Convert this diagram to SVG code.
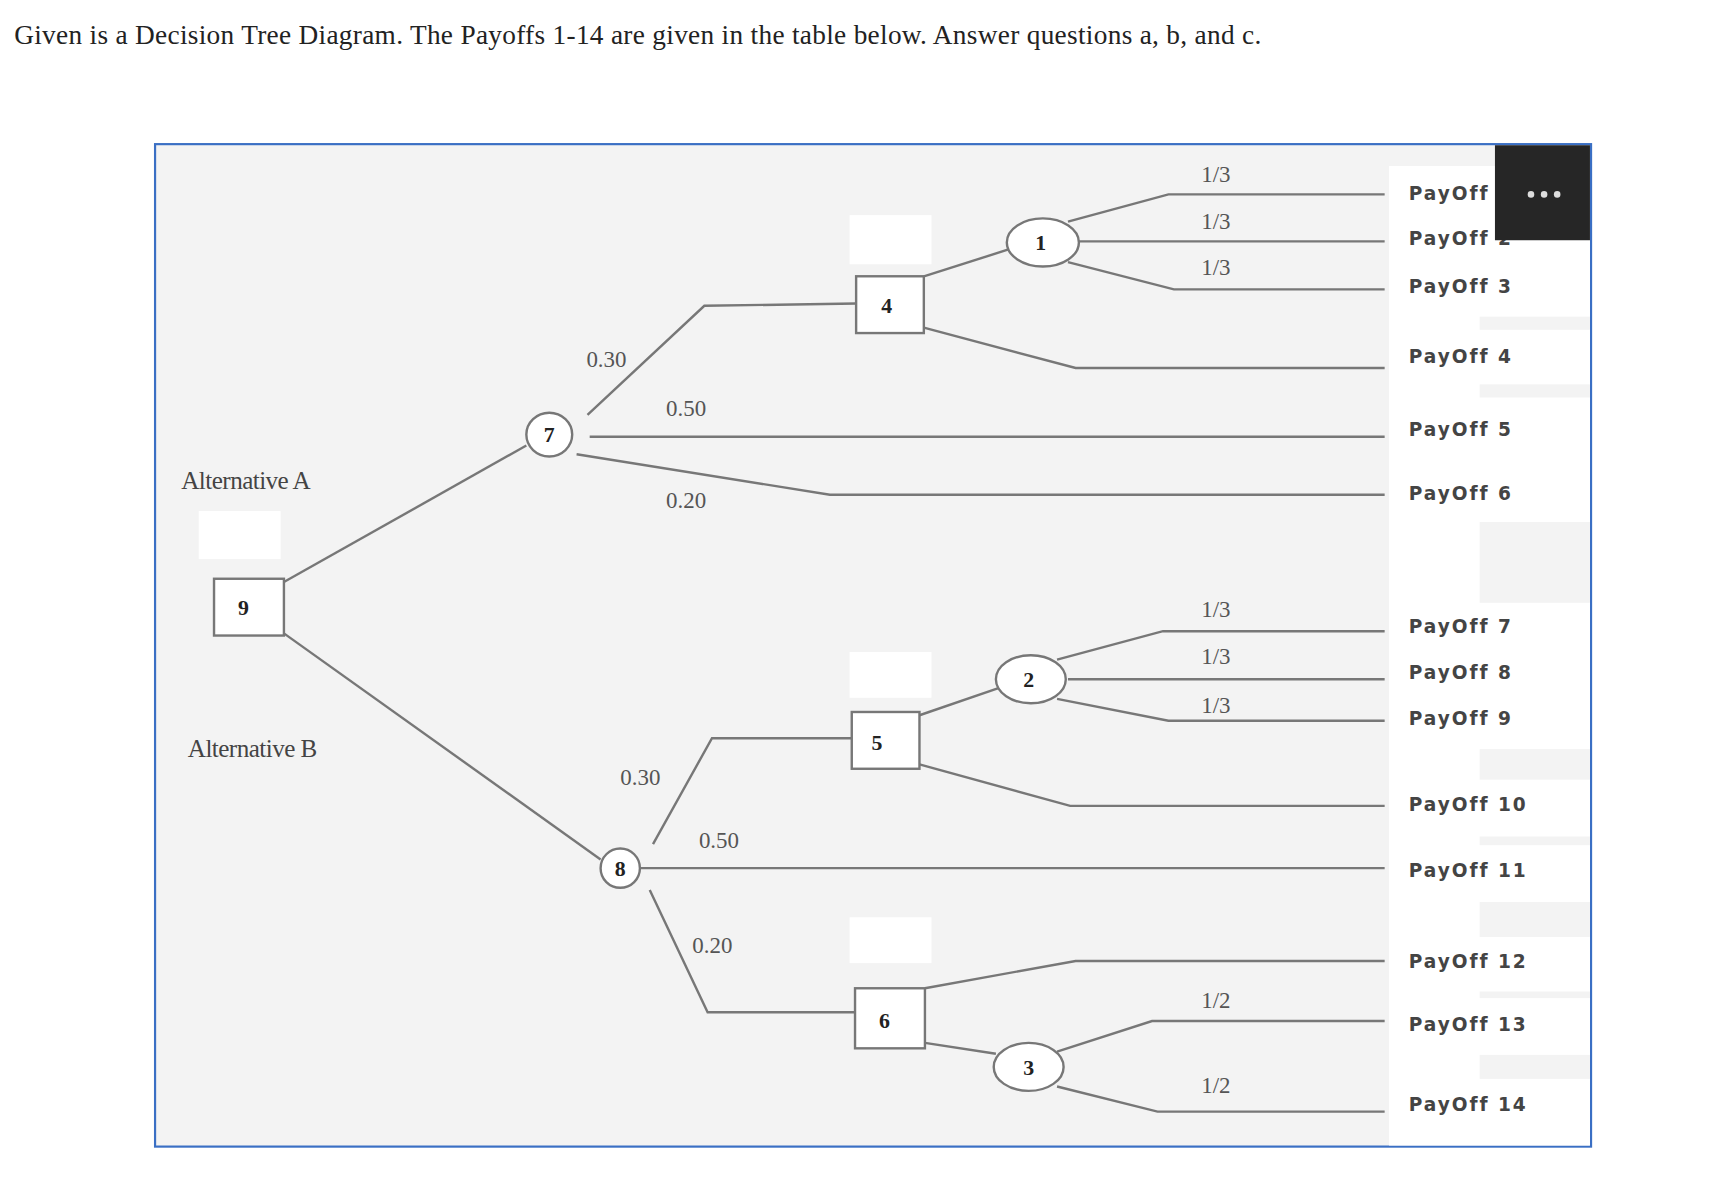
<svg xmlns="http://www.w3.org/2000/svg" width="1712" height="1194" viewBox="0 0 1712 1194">
<style>
.ln{fill:none;stroke:#777;stroke-width:2.2}
.nd{fill:#fff;stroke:#777;stroke-width:2.2}
.num{font-family:"Liberation Serif",serif;font-weight:bold;font-size:20px;fill:#222;text-anchor:middle}
.pr{font-family:"Liberation Serif",serif;font-size:21px;fill:#555}
.po{font-family:"DejaVu Sans",sans-serif;font-weight:bold;font-size:17px;fill:#444;letter-spacing:1.8px}
.alt{font-family:"Liberation Serif",serif;font-size:23px;fill:#444;letter-spacing:-0.5px}
</style>
<rect width="1712" height="1194" fill="#fff"/>
<g transform="scale(1.092)">
<text x="13" y="40" font-family="Liberation Serif,serif" font-size="25" fill="#222" textLength="1142">Given is a Decision Tree Diagram. The Payoffs 1-14 are given in the table below. Answer questions a, b, and c.</text>
<rect x="142" y="132" width="1315" height="918" fill="#f3f3f3" stroke="#3a6fc4" stroke-width="2"/>
<rect x="1272" y="152" width="184" height="897" fill="#fff"/>
<g fill="#f3f3f3">
<rect x="1355" y="290" width="101" height="12"/><rect x="1355" y="352" width="101" height="12"/><rect x="1355" y="478" width="101" height="74"/><rect x="1355" y="686" width="101" height="28"/><rect x="1355" y="766" width="101" height="8"/><rect x="1355" y="826" width="101" height="32"/><rect x="1355" y="908" width="101" height="6"/><rect x="1355" y="966" width="101" height="22"/>
</g>
<g fill="#fff"><rect x="778" y="197" width="75" height="45"/><rect x="182" y="468" width="75" height="44"/><rect x="778" y="597" width="75" height="42"/><rect x="778" y="840" width="75" height="42"/></g>
<g id="connectors">
<polyline class="ln" points="260,533 482,408"/>
<polyline class="ln" points="260,580 550,787"/>
<polyline class="ln" points="538,380 645,280 784,278"/>
<polyline class="ln" points="540,400 1268,400" stroke-width="3"/>
<polyline class="ln" points="528,416 760,453 1268,453"/>
<polyline class="ln" points="846,253 925,228" stroke="#444"/>
<polyline class="ln" points="846,300 985,337 1268,337"/>
<polyline class="ln" points="978,203 1070,178 1268,178"/>
<polyline class="ln" points="988,221 1268,221" stroke-width="3"/>
<polyline class="ln" points="978,240 1075,265 1268,265"/>
<polyline class="ln" points="598,773 652,676 780,676"/>
<polyline class="ln" points="586,795 1268,795" stroke="#555"/>
<polyline class="ln" points="595,815 648,927 783,927"/>
<polyline class="ln" points="842,655 915,630" stroke="#444"/>
<polyline class="ln" points="842,700 980,738 1268,738"/>
<polyline class="ln" points="968,604 1065,578 1268,578"/>
<polyline class="ln" points="978,622 1268,622" stroke-width="3"/>
<polyline class="ln" points="968,640 1070,660 1268,660"/>
<polyline class="ln" points="847,905 985,880 1268,880"/>
<polyline class="ln" points="847,955 912,965" stroke="#444"/>
<polyline class="ln" points="968,963 1055,935 1268,935"/>
<polyline class="ln" points="968,995 1060,1018 1268,1018"/>
</g>
<g id="n9"><rect class="nd" x="196" y="530" width="64" height="52"/><text class="num" x="223" y="563">9</text></g>
<g id="n7"><ellipse class="nd" cx="503" cy="398" rx="21" ry="20"/><text class="num" x="503" y="405">7</text></g>
<g id="n4"><rect class="nd" x="784" y="253" width="62" height="52"/><text class="num" x="812" y="287">4</text></g>
<g id="n1"><ellipse class="nd" cx="955" cy="222" rx="33" ry="22"/><text class="num" x="953" y="229">1</text></g>
<g id="n8"><ellipse class="nd" cx="568" cy="795" rx="18" ry="18"/><text class="num" x="568" y="802">8</text></g>
<g id="n5"><rect class="nd" x="780" y="652" width="62" height="52"/><text class="num" x="803" y="687">5</text></g>
<g id="n2"><ellipse class="nd" cx="944" cy="622" rx="32" ry="22"/><text class="num" x="942" y="629">2</text></g>
<g id="n6"><rect class="nd" x="783" y="905" width="64" height="55"/><text class="num" x="810" y="941">6</text></g>
<g id="n3"><ellipse class="nd" cx="942" cy="977" rx="32" ry="22"/><text class="num" x="942" y="984">3</text></g>
<g class="pr">
<text x="1100" y="167">1/3</text><text x="1100" y="210">1/3</text><text x="1100" y="252">1/3</text>
<text x="1100" y="565">1/3</text><text x="1100" y="608">1/3</text><text x="1100" y="653">1/3</text>
<text x="1100" y="923">1/2</text><text x="1100" y="1001">1/2</text>
<text x="537" y="336">0.30</text><text x="610" y="381">0.50</text><text x="610" y="465">0.20</text>
<text x="568" y="719">0.30</text><text x="640" y="777">0.50</text><text x="634" y="873">0.20</text>
</g>
<text class="alt" x="166" y="448">Alternative A</text>
<text class="alt" x="172" y="693">Alternative B</text>
<g class="po">
<text x="1290" y="183">PayOff 1</text><text x="1290" y="224">PayOff 2</text><text x="1290" y="268">PayOff 3</text><text x="1290" y="332">PayOff 4</text><text x="1290" y="399">PayOff 5</text><text x="1290" y="458">PayOff 6</text><text x="1290" y="580">PayOff 7</text><text x="1290" y="622">PayOff 8</text><text x="1290" y="664">PayOff 9</text><text x="1290" y="743">PayOff 10</text><text x="1290" y="803">PayOff 11</text><text x="1290" y="886">PayOff 12</text><text x="1290" y="944">PayOff 13</text><text x="1290" y="1017">PayOff 14</text>
</g>
<rect x="1369" y="133" width="87" height="87" fill="#262626"/>
<g fill="#ddd"><circle cx="1402" cy="178" r="3"/><circle cx="1414" cy="178" r="3"/><circle cx="1426" cy="178" r="3"/></g>
</g>
</svg>
